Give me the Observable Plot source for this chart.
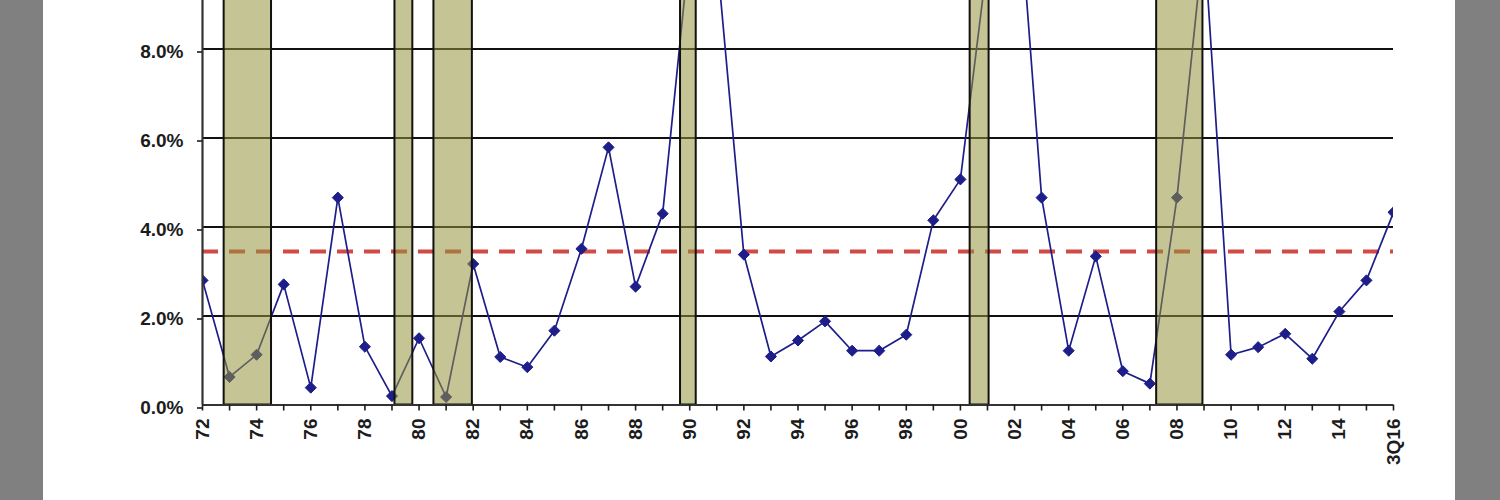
<!DOCTYPE html>
<html><head><meta charset="utf-8">
<script src="https://cdn.jsdelivr.net/npm/d3@7"></script>
<script src="https://cdn.jsdelivr.net/npm/@observablehq/plot@0.6"></script>
<style>
html,body{margin:0;padding:0;background:#808080;overflow:hidden}
#page{position:relative;width:1500px;height:500px;}
#panel{position:absolute;left:43px;top:0;width:1412px;height:500px;background:#fff}
#chart{position:absolute;left:0;top:0}
</style></head><body>
<div id="page"><div id="panel"></div><div id="chart"></div></div>
<script>
// Categories (year labels) and values (%)
const labels = ["72","73","74","75","76","77","78","79","80","81","82","83","84","85","86","87","88","89","90","91","92","93","94","95","96","97","98","99","00","01","02","03","04","05","06","07","08","09","10","11","12","13","14","15","3Q16"];
const values = [2.80,0.63,1.13,2.71,0.39,4.66,1.31,0.20,1.50,0.18,3.17,1.08,0.85,1.67,3.51,5.79,2.66,4.30,10.3,10.1,3.38,1.09,1.45,1.88,1.22,1.22,1.58,4.15,5.07,10.0,12.7,4.66,1.22,3.34,0.76,0.48,4.66,10.5,1.13,1.30,1.60,1.04,2.10,2.80,4.33];
const xTickLabels = ["72","74","76","78","80","82","84","86","88","90","92","94","96","98","00","02","04","06","08","10","12","14","3Q16"];
const yTicks = [0, 2, 4, 6, 8];
// Recessions (fractional years)
const recStart = [1972.80, 1979.11, 1980.55, 1989.66, 2000.36, 2007.25];
const recEnd   = [1974.55, 1979.77, 1981.97, 1990.24, 2001.06, 2008.96];
const avgRate = 3.45;

const years = labels.map((_, i) => 1972 + i);
const data = labels.map((l, i) => ({year: years[i], label: l, value: values[i]}));
const recessions = recStart.map((s, i) => ({start: s, end: recEnd[i]}));
const labelFor = new Map(labels.map((l, i) => [years[i], xTickLabels.includes(l) ? l : ""]));

const navy = "#1e1e8a";
const font = "'Liberation Sans', Arial, sans-serif";

const chart = Plot.plot({
  width: 1500, height: 500,
  marginLeft: 202, marginRight: 107, marginTop: 0, marginBottom: 95.5,
  style: {background: "transparent", fontFamily: font, fontSize: "19px", fontWeight: "bold", color: "#1c1c1c"},
  x: {type: "linear", domain: [years[0], years[years.length - 1]]},
  y: {domain: [0, 9.09]},
  marks: [
    Plot.gridY({ticks: yTicks.slice(1), stroke: "#111", strokeOpacity: 1, strokeWidth: 1.8}),
    Plot.ruleY([avgRate], {stroke: "#d04a46", strokeWidth: 4, strokeDasharray: "16,11"}),
    Plot.line(data, {x: "year", y: "value", stroke: navy, strokeWidth: 1.7, clip: true}),
    Plot.dot(data, {x: "year", y: "value", symbol: "diamond2", r: 5, fill: navy, stroke: navy, strokeWidth: 1, clip: true}),
    Plot.rect(recessions, {x1: "start", x2: "end", fill: "#96943c", fillOpacity: 0.55, stroke: "#111", strokeWidth: 2, insetTop: -8}),
    Plot.ruleY([0], {stroke: "#333", strokeWidth: 2.2}),
    Plot.ruleX([years[0]], {stroke: "#333", strokeWidth: 2.2}),
    Plot.axisY({ticks: yTicks, tickSize: 5, tickPadding: 14, tickFormat: d => d.toFixed(1) + "%", dy: 3, label: null, fontSize: 19, fontWeight: "bold", color: "#1c1c1c", strokeWidth: 1.6}),
    Plot.axisX({ticks: years, tickSize: 6, tickPadding: 7.5, tickRotate: -90, textAnchor: "end", lineAnchor: "middle", tickFormat: y => labelFor.get(y), label: null, fontSize: 19, fontWeight: "bold", color: "#1c1c1c", strokeWidth: 1.6})
  ]
});
document.getElementById("chart").appendChild(chart);
</script>
</body></html>
